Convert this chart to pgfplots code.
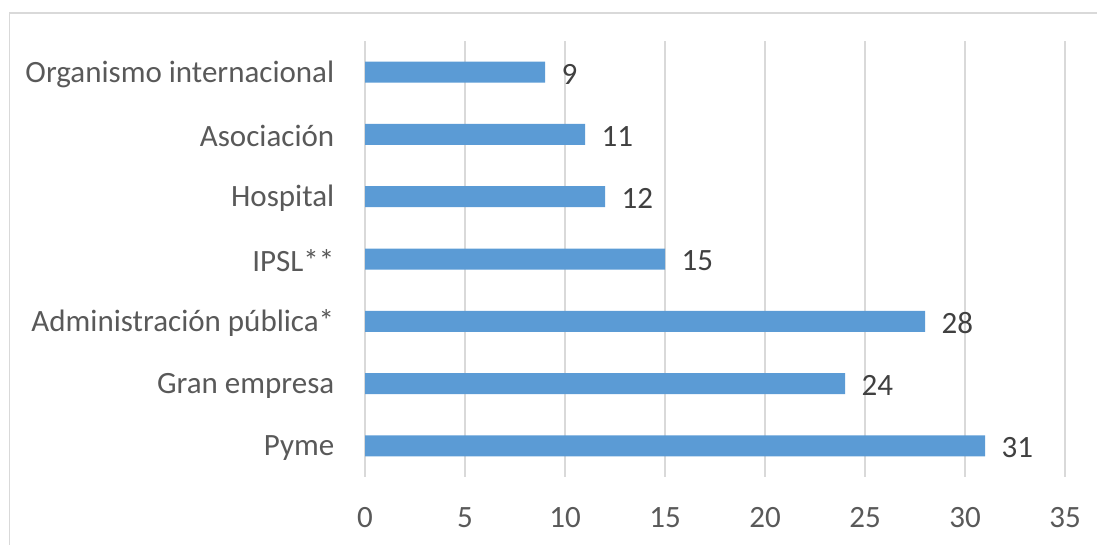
\documentclass[border=0pt]{standalone}
\usepackage{pgfplots}
\pgfplotsset{compat=1.18}
\usepackage{fontspec}
\setmainfont{Carlito}
\definecolor{barblue}{HTML}{5B9BD5}
\definecolor{gridgray}{HTML}{D9D9D9}
\definecolor{txtgray}{HTML}{595959}
\definecolor{lblgray}{HTML}{404040}
\begin{document}
\fontsize{15.5}{18}\selectfont
\begin{tikzpicture}
\useasboundingbox (0,0) rectangle (548.5pt,272.5pt);
\draw[gridgray, line width=0.75pt] (4.75pt,-2pt) -- (4.75pt,266pt) -- (550pt,266pt);
\begin{axis}[
  at={(182.5pt,34pt)}, anchor=south west,
  scale only axis, width=350pt, height=218pt,
  xbar, bar width=10.5pt,
  xmin=0, xmax=35, ymin=-0.5, ymax=6.5,
  xtick={0,5,...,35},
  ytick={0,1,2,3,4,5,6},
  yticklabels={Pyme,Gran empresa,Administración pública*,IPSL**,Hospital,Asociación,Organismo internacional},
  axis line style={draw=none},
  major tick length=0pt,
  xmajorgrids, grid style={gridgray, line width=0.75pt},
  /pgf/number format/assume math mode=true,
  tick label style={txtgray, font=\fontsize{15.5}{18}\selectfont},
  xticklabel style={yshift=-10pt},
  yticklabel style={xshift=-10pt, yshift=-1pt},
  nodes near coords,
  nodes near coords style={lblgray, anchor=west, xshift=3pt, yshift=-1pt, font=\fontsize{15.5}{18}\selectfont},
]
\addplot[fill=barblue, draw=none] coordinates {(31,0) (24,1) (28,2) (15,3) (12,4) (11,5) (9,6)};
\end{axis}
\end{tikzpicture}
\end{document}
